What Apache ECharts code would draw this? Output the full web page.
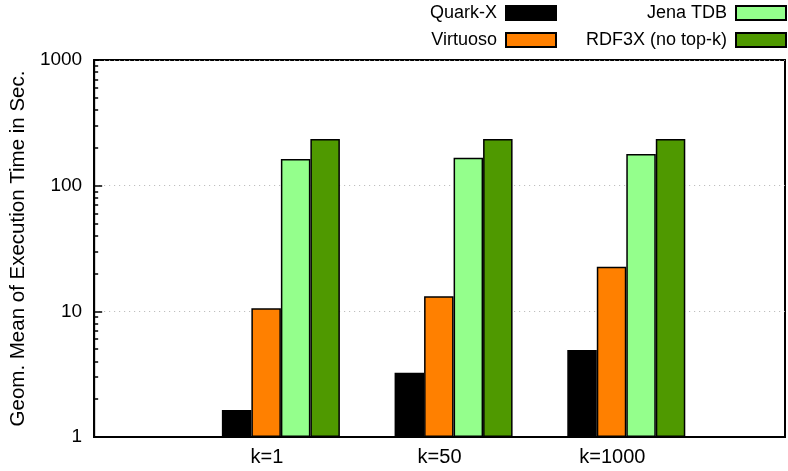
<!DOCTYPE html>
<html>
<head>
<meta charset="utf-8">
<script src="https://cdn.jsdelivr.net/npm/echarts@6/dist/echarts.min.js"></script>
<style>
  html, body { margin: 0; padding: 0; background: #fff; }
  #chart { width: 788px; height: 471px; }
</style>
</head>
<body>
<div id="chart"></div>
<script>
// categories (empty ends give the x range -1..3 like the original plot)
var categories = ['', 'k=1', 'k=50', 'k=1000', ''];

// geometric mean of execution time (sec)
var quarkX = [null, 1.64, 3.25, 4.92, null];
var virtuoso = [null, 10.6, 13.2, 22.6, null];
var jenaTDB = [null, 163, 167, 179, null];
var rdf3x = [null, 235, 235, 235, null];

var seriesNames = ['Quark-X', 'Virtuoso', 'Jena TDB', 'RDF3X (no top-k)'];
var seriesColors = ['#000000', '#ff8000', '#94ff8c', '#4f9900'];

// log minor ticks 2..9 in every decade
var minorTicks = [];
for (var d = 0; d < 3; d++) {
    for (var m = 2; m <= 9; m++) {
        minorTicks.push(Math.log10(m) + d);
    }
}

var font = 'Liberation Sans, Arial, Helvetica, sans-serif';

function barSeries(name, data, color) {
    return {
        name: name,
        type: 'bar',
        data: data,
        barWidth: 29.5,
        barGap: '0%',
        itemStyle: { color: color, borderColor: '#000', borderWidth: 1.5 },
        emphasis: { disabled: true },
        z: 3
    };
}

function legendBox(names, right) {
    return {
        data: names,
        orient: 'vertical', align: 'right',
        right: right, top: 4, padding: 0,
        itemWidth: 50, itemHeight: 14, itemGap: 9,
        icon: 'rect',
        textStyle: { fontSize: 18, color: '#000', fontFamily: font, padding: [0, 4, 0, 0] }
    };
}

var chart = echarts.init(document.getElementById('chart'));
chart.setOption({
    animation: false,
    textStyle: { fontFamily: font },
    grid: {
        left: 92, top: 60, width: 704, height: 377,
        show: true, borderColor: '#000', borderWidth: 2
    },
    legend: [legendBox(seriesNames.slice(0, 2), 231), legendBox(seriesNames.slice(2, 4), 1)],
    xAxis: {
        type: 'category',
        data: categories,
        boundaryGap: false,
        axisLine: { lineStyle: { color: '#000', width: 2 } },
        axisTick: { show: false },
        axisLabel: { interval: 0, fontSize: 20, color: '#000', margin: 10, fontFamily: font },
        splitLine: { show: false }
    },
    yAxis: [{
        type: 'log',
        logBase: 10,
        min: 1, max: 1000,
        name: 'Geom. Mean of Execution Time in Sec.',
        nameLocation: 'middle',
        nameGap: 60,
        nameTextStyle: { fontSize: 20.5, color: '#000', fontFamily: font },
        axisLine: { show: true, lineStyle: { color: '#000', width: 2 } },
        axisTick: { show: true, inside: true, length: 8, lineStyle: { color: '#000', width: 1.5 } },
        axisLabel: { fontSize: 19, color: '#000', margin: 12, fontFamily: font,
            formatter: function (v) { return String(v); } },
        splitLine: { show: true, lineStyle: { color: '#b4b4b4', type: [1, 4], width: 1 } }
    }, {
        // log-spaced minor ticks on a hidden linear axis (log10 space)
        type: 'value',
        min: 0, max: 3,
        position: 'left',
        axisLine: { show: false },
        axisTick: { show: true, inside: true, length: 4, customValues: minorTicks,
            lineStyle: { color: '#000', width: 1.5 } },
        axisLabel: { show: false },
        splitLine: { show: false }
    }],
    series: [
        // spacer: shifts each cluster right of its tick label like the original
        { name: 'pad', type: 'bar', data: [null, null, null, null, null], barWidth: 28, barGap: '0%',
          itemStyle: { color: 'rgba(0,0,0,0)' }, silent: true },
        barSeries(seriesNames[0], quarkX, seriesColors[0]),
        barSeries(seriesNames[1], virtuoso, seriesColors[1]),
        barSeries(seriesNames[2], jenaTDB, seriesColors[2]),
        barSeries(seriesNames[3], rdf3x, seriesColors[3])
    ]
});
</script>
</body>
</html>
